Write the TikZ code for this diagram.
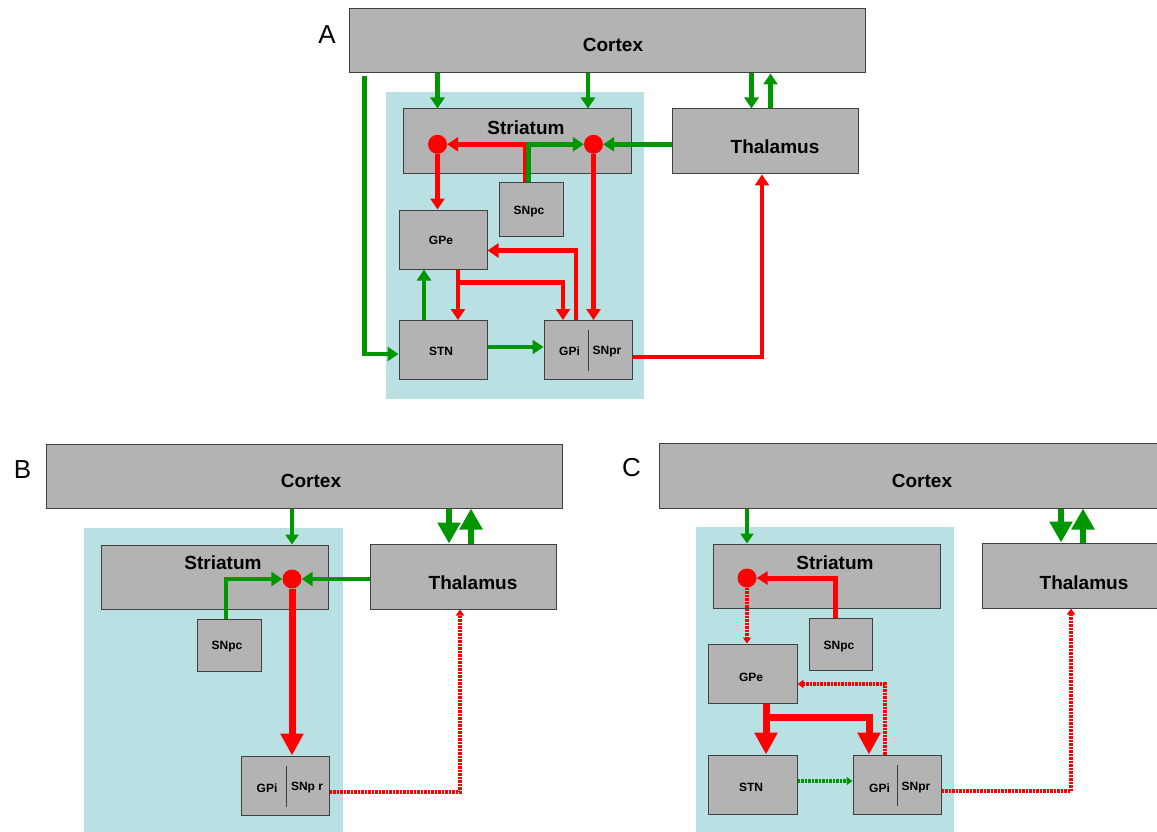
\documentclass[tikz,border=0pt]{standalone}
\usepackage{fontspec}
\setmainfont{Liberation Sans}
\usetikzlibrary{arrows.meta,calc}
\definecolor{boxgrey}{RGB}{179,179,179}
\definecolor{bgblue}{RGB}{185,224,227}
\definecolor{exgreen}{RGB}{0,150,0}
\definecolor{inred}{RGB}{255,0,0}
\tikzset{
  region/.style={draw=black!75, line width=1pt, fill=boxgrey, inner sep=0pt},
  bigtxt/.style={font=\fontsize{19}{22}\selectfont\bfseries},
  smalltxt/.style={font=\fontsize{12}{14}\selectfont\bfseries},
  panel/.style={font=\fontsize{26}{30}\selectfont},
  spot/.style={circle, fill=inred, minimum size=19pt, inner sep=0pt},
  ex/.style={draw=exgreen, line width=4.5pt, -{Triangle[length=11pt,width=14pt]}},
  exthin/.style={draw=exgreen, line width=3.5pt, -{Triangle[length=10pt,width=13pt]}},
  exbig/.style={draw=exgreen, line width=6.5pt, -{Triangle[length=21pt,width=22pt]}},
  exdot/.style={draw=exgreen, line width=3.5pt, dash pattern=on 2.5pt off 1pt, -{Triangle[length=6pt,width=8pt]}},
  inh/.style={draw=inred, line width=4.5pt, -{Triangle[length=11pt,width=14pt]}},
  inhmid/.style={draw=inred, line width=5pt, -{Triangle[length=11pt,width=13pt]}},
  inhbig/.style={draw=inred, line width=7pt, -{Triangle[length=22pt,width=22pt]}},
  inhdot/.style={draw=inred, line width=3.5pt, dash pattern=on 2.5pt off 1pt, -{Triangle[length=6pt,width=8pt]}},
  divider/.style={draw=black!75, line width=1pt}
}
\begin{document}
\begin{tikzpicture}[x=1pt, y=-1pt]
  \clip (0,0) rectangle (1157,832);
  \fill[white] (0,0) rectangle (1157,832);

  % panel A
  \fill[bgblue] (386,92) rectangle (644,399);
  \node[panel] (labA) at (327,35) {A};
  \node[region, minimum width=516pt, minimum height=64pt, label={[bigtxt,xshift=6pt,yshift=-4pt]center:Cortex}] (cortexA) at (607,41) {};
  \node[region, minimum width=228pt, minimum height=65pt, label={[bigtxt,xshift=9pt,yshift=14pt]center:Striatum}] (strA) at (517,141.5) {};
  \node[region, minimum width=186pt, minimum height=65pt, label={[bigtxt,xshift=10pt,yshift=-5.5pt]center:Thalamus}] (thalA) at (765,141.5) {};
  \node[region, minimum width=64pt, minimum height=53pt, label={[smalltxt,xshift=-2pt,yshift=-2pt]center:SNpc}] (snpcA) at (531,209.5) {};
  \node[region, minimum width=88pt, minimum height=59pt, label={[smalltxt,xshift=-2pt,yshift=-1pt]center:GPe}] (gpeA) at (443,239.5) {};
  \node[region, minimum width=88pt, minimum height=59pt, label={[smalltxt,xshift=-2pt,yshift=-1pt]center:STN}] (stnA) at (443,350) {};
  \node[region, minimum width=88pt, minimum height=59pt,
        label={[smalltxt,xshift=-18.5pt,yshift=-1.5pt]center:GPi},
        label={[smalltxt,xshift=19pt,yshift=-1.5pt]center:SNpr}] (gpiA) at (588,350) {};
  \draw[divider] ($(gpiA.north)+(0,10)$) -- ($(gpiA.south)+(0,-9)$);
  \node[spot] (dotLA) at (437.5,144.3) {};
  \node[spot] (dotRA) at (593.5,144.3) {};

  \draw[ex] (cortexA.south -| dotLA) -- (strA.north -| dotLA);
  \draw[ex] ($(cortexA.south -| dotRA)+(-5.5,0)$) -- ($(strA.north -| dotRA)+(-5.5,0)$);
  \draw[ex] ($(cortexA.south -| thalA)+(-13.5,0)$) -- ($(thalA.north)+(-13.5,0)$);
  \draw[ex] ($(thalA.north)+(5.5,0)$) -- ($(cortexA.south -| thalA)+(5.5,0)$);
  \draw[ex] ($(cortexA.south west)+(16,3)$) |- ($(stnA.west)+(0,4)$);
  \draw[ex] (thalA.west |- dotRA) -- (dotRA);
  \draw[inh] ($(snpcA.north)+(-6,0)$) |- (dotLA);
  \draw[ex] ($(snpcA.north)+(-2.5,0)$) |- (dotRA);
  \draw[inh] (dotLA) -- (gpeA.north -| dotLA);
  \draw[inh] (dotRA) -- (gpiA.north -| dotRA);
  \draw[inh] ($(gpeA.south)+(15,0)$) -- ($(stnA.north)+(15,0)$);
  \draw[inh] ($(gpeA.south)+(15,13)$) -| ($(gpiA.north)+(-25,0)$);
  \draw[inh] ($(gpiA.north)+(-12,0)$) |- ($(gpeA.east)+(0,11)$);
  \draw[ex] ($(stnA.north)+(-19,0)$) -- ($(gpeA.south)+(-19,0)$);
  \draw[ex] ($(stnA.east)+(0,-3)$) -- ($(gpiA.west)+(0,-3)$);
  \draw[inh] ($(gpiA.east)+(0,7)$) -| ($(thalA.south)+(-3,0)$);

  % panel B
  \fill[bgblue] (84,528) rectangle (343,832);
  \node[panel] (labB) at (22.5,470) {B};
  \node[region, minimum width=516pt, minimum height=64pt, label={[bigtxt,xshift=7pt,yshift=-5pt]center:Cortex}] (cortexB) at (304,476) {};
  \node[region, minimum width=227pt, minimum height=64pt, label={[bigtxt,xshift=8.5pt,yshift=14pt]center:Striatum}] (strB) at (214.5,577) {};
  \node[region, minimum width=186pt, minimum height=65pt, label={[bigtxt,xshift=10pt,yshift=-6.5pt]center:Thalamus}] (thalB) at (463,576.5) {};
  \node[region, minimum width=64pt, minimum height=52pt, label={[smalltxt,xshift=-2pt,yshift=-2pt]center:SNpc}] (snpcB) at (229,645) {};
  \node[region, minimum width=88pt, minimum height=59pt,
        label={[smalltxt,xshift=-18pt,yshift=-2.5pt]center:GPi},
        label={[smalltxt,xshift=22pt,yshift=-2.5pt]center:SNp r}] (gpiB) at (285,785.5) {};
  \draw[divider] ($(gpiB.north)+(1,10)$) -- ($(gpiB.south)+(1,-9)$);
  \node[spot] (dotB) at (292,579) {};

  \draw[exthin] (cortexB.south -| dotB) -- (strB.north -| dotB);
  \draw[exbig] ($(cortexB.south -| thalB)+(-14,0)$) -- ($(thalB.north)+(-14,0)$);
  \draw[exbig] ($(thalB.north)+(8,0)$) -- ($(cortexB.south -| thalB)+(8,0)$);
  \draw[ex] (thalB.west |- dotB) -- (dotB);
  \draw[ex] ($(snpcB.north)+(-3,0)$) |- (dotB);
  \draw[inhbig] (dotB) -- (gpiB.north -| dotB);
  \draw[inhdot] ($(gpiB.east)+(0,6.5)$) -| ($(thalB.south)+(-3,0)$);

  % panel C
  \fill[bgblue] (696,527) rectangle (954,832);
  \node[panel] (labC) at (631.5,468) {C};
  \node[region, minimum width=516pt, minimum height=65pt, label={[bigtxt,xshift=5pt,yshift=-5.5pt]center:Cortex}] (cortexC) at (917,475.5) {};
  \node[region, minimum width=227pt, minimum height=64pt, label={[bigtxt,xshift=8.5pt,yshift=13pt]center:Striatum}] (strC) at (826.5,576) {};
  \node[region, minimum width=186pt, minimum height=65pt, label={[bigtxt,xshift=9pt,yshift=-7.5pt]center:Thalamus}] (thalC) at (1075,575.5) {};
  \node[region, minimum width=63pt, minimum height=52pt, label={[smalltxt,xshift=-1.5pt,yshift=-3pt]center:SNpc}] (snpcC) at (840.5,644) {};
  \node[region, minimum width=89pt, minimum height=59pt, label={[smalltxt,xshift=-1.5pt,yshift=-3.5pt]center:GPe}] (gpeC) at (752.5,673.5) {};
  \node[region, minimum width=89pt, minimum height=59pt, label={[smalltxt,xshift=-1.5pt,yshift=-2.5pt]center:STN}] (stnC) at (752.5,784.5) {};
  \node[region, minimum width=88pt, minimum height=59pt,
        label={[smalltxt,xshift=-17.5pt,yshift=-3.5pt]center:GPi},
        label={[smalltxt,xshift=19pt,yshift=-3.5pt]center:SNpr}] (gpiC) at (897,784.5) {};
  \draw[divider] ($(gpiC.north)+(0,10)$) -- ($(gpiC.south)+(0,-9)$);
  \node[spot] (dotC) at (747,578) {};

  \draw[exthin] (cortexC.south -| dotC) -- (strC.north -| dotC);
  \draw[exbig] ($(cortexC.south -| thalC)+(-14,0)$) -- ($(thalC.north)+(-14,0)$);
  \draw[exbig] ($(thalC.north)+(8,0)$) -- ($(cortexC.south -| thalC)+(8,0)$);
  \draw[inhmid] ($(snpcC.north)+(-5.5,0)$) |- (dotC);
  \draw[inhdot] (dotC) -- (gpeC.north -| dotC);
  \draw[inhbig] ($(gpeC.south)+(13.5,0)$) -- ($(stnC.north)+(13.5,0)$);
  \draw[inhbig] ($(gpeC.south)+(13.5,14)$) -| ($(gpiC.north)+(-28,0)$);
  \draw[inhdot] ($(gpiC.north)+(-12,0)$) |- ($(gpeC.east)+(0,10.5)$);
  \draw[exdot] ($(stnC.east)+(0,-3.5)$) -- ($(gpiC.west)+(0,-3.5)$);
  \draw[inhdot] ($(gpiC.east)+(0,6.5)$) -| ($(thalC.south)+(-4,0)$);
\end{tikzpicture}
\end{document}
